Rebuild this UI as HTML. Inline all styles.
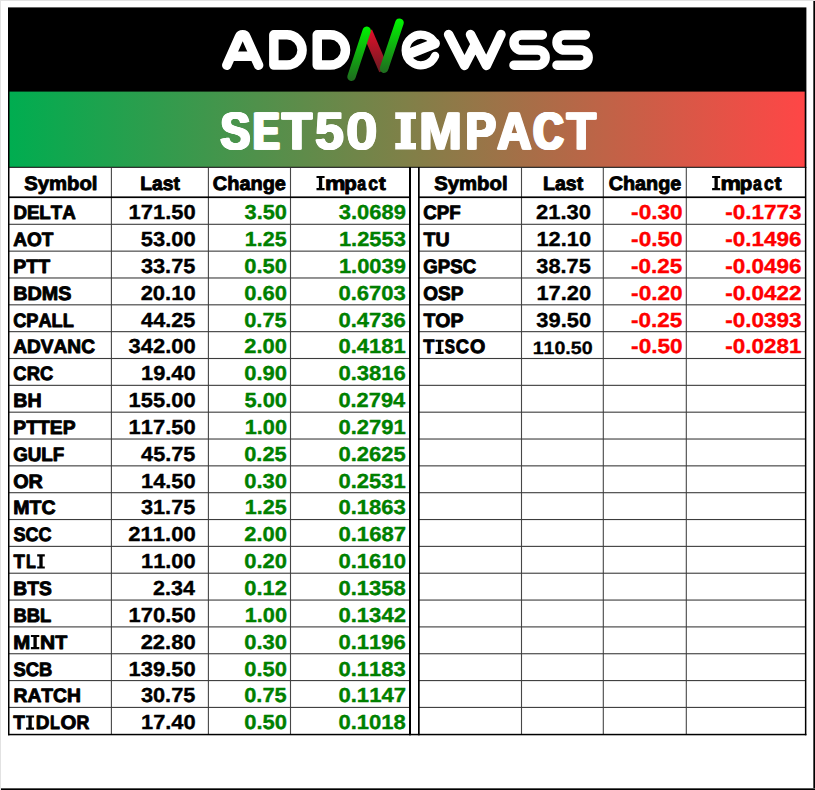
<!DOCTYPE html>
<html><head><meta charset="utf-8"><style>
html,body{margin:0;padding:0;background:#fff;width:815px;height:790px;overflow:hidden}
svg{display:block}
text{font-family:"Liberation Sans",sans-serif;font-weight:bold;font-kerning:none;white-space:pre;text-rendering:geometricPrecision}
</style></head><body>
<svg width="815" height="790" viewBox="0 0 815 790">
<defs>
<linearGradient id="bg" x1="0" x2="1" y1="0" y2="0">
<stop offset="0" stop-color="#00ad50"/><stop offset="0.5" stop-color="#808048"/><stop offset="1" stop-color="#ff4646"/>
</linearGradient>
<linearGradient id="rg" gradientUnits="userSpaceOnUse" x1="0" y1="30" x2="0" y2="71">
<stop offset="0" stop-color="#e0102a"/><stop offset="1" stop-color="#6e1a22"/>
</linearGradient>
<linearGradient id="gg1" gradientUnits="userSpaceOnUse" x1="0" y1="27" x2="0" y2="81">
<stop offset="0" stop-color="#00f000"/><stop offset="1" stop-color="#1f6a1f"/>
</linearGradient>
<linearGradient id="gg2" gradientUnits="userSpaceOnUse" x1="0" y1="18" x2="0" y2="73">
<stop offset="0" stop-color="#00f800"/><stop offset="1" stop-color="#1f6a1f"/>
</linearGradient>
</defs>
<rect x="0" y="0" width="815" height="790" fill="#fff"/>
<rect x="0" y="0" width="815" height="1" fill="#e2e2e2"/>
<rect x="0" y="0" width="1" height="790" fill="#e2e2e2"/>
<rect x="813" y="1" width="1" height="789" fill="#555"/>
<rect x="814" y="1" width="1" height="789" fill="#000"/>
<rect x="1" y="788" width="814" height="1" fill="#555"/>
<rect x="1" y="789" width="814" height="1" fill="#000"/>
<rect x="8" y="7.4" width="798.4" height="160.4" fill="#000"/>
<rect x="9.5" y="91.6" width="795.2" height="75.2" fill="url(#bg)"/>

<g fill="none" stroke="#fff" stroke-width="9.5" stroke-linecap="round" stroke-linejoin="round">
<path d="M226.8,65.2 L239.36,37.04 A3.63,3.63 0 0 1 246.04,37.04 L258.6,65.2"/>
<path d="M233,56.2 H252.4"/>
<path d="M273.85,34.85 H286.95 A15.12,15.12 0 0 1 286.95,65.1 H273.85 Z"/>
<path d="M317.25,34.85 H330.35 A15.12,15.12 0 0 1 330.35,65.1 H317.25 Z"/>
<path d="M434.83,43.51 A15.3,15.3 0 1 0 435.09,55.94" stroke-width="8.3"/>
<path d="M408.1,54.2 L434.83,43.51" stroke-width="10.2"/>
<path d="M448.6,34.5 L464.5,65.4 L475,45 M470.5,34.5 L486.4,65.4 L501,34.5"/>
<path d="M542.35,34.9 H521.55 A7.55,7.55 0 0 0 521.55,50 H537.55 A7.6,7.6 0 0 1 537.55,65.2 H514"/>
<path d="M585.35,34.9 H564.55 A7.55,7.55 0 0 0 564.55,50 H580.55 A7.6,7.6 0 0 1 580.55,65.2 H557"/>
</g>
<path d="M367.3,31.6 L384,70.2" stroke="url(#rg)" stroke-width="10.2" fill="none"/>
<path d="M366.7,30.7 L351.5,76.8" stroke="url(#gg1)" stroke-width="8.4" stroke-linecap="round" fill="none"/>
<path d="M399.5,22.7 L384,68.6" stroke="url(#gg2)" stroke-width="8.6" stroke-linecap="round" fill="none"/>

<rect x="110.85000000000001" y="168" width="1.1" height="566" fill="#484848"/>
<rect x="207.85" y="168" width="1.1" height="566" fill="#484848"/>
<rect x="289.95" y="168" width="1.1" height="566" fill="#484848"/>
<rect x="520.95" y="168" width="1.1" height="566" fill="#484848"/>
<rect x="602.75" y="168" width="1.1" height="566" fill="#484848"/>
<rect x="685.75" y="168" width="1.1" height="566" fill="#484848"/>
<rect x="8" y="223.75" width="402" height="1.1" fill="#3c3c3c"/>
<rect x="418" y="223.75" width="388" height="1.1" fill="#3c3c3c"/>
<rect x="8" y="250.59" width="402" height="1.1" fill="#3c3c3c"/>
<rect x="418" y="250.59" width="388" height="1.1" fill="#3c3c3c"/>
<rect x="8" y="277.43" width="402" height="1.1" fill="#3c3c3c"/>
<rect x="418" y="277.43" width="388" height="1.1" fill="#3c3c3c"/>
<rect x="8" y="304.27" width="402" height="1.1" fill="#3c3c3c"/>
<rect x="418" y="304.27" width="388" height="1.1" fill="#3c3c3c"/>
<rect x="8" y="331.10999999999996" width="402" height="1.1" fill="#3c3c3c"/>
<rect x="418" y="331.10999999999996" width="388" height="1.1" fill="#3c3c3c"/>
<rect x="8" y="357.95" width="402" height="1.1" fill="#3c3c3c"/>
<rect x="418" y="357.95" width="388" height="1.1" fill="#3c3c3c"/>
<rect x="8" y="384.79" width="402" height="1.1" fill="#3c3c3c"/>
<rect x="418" y="384.79" width="388" height="1.1" fill="#3c3c3c"/>
<rect x="8" y="411.63" width="402" height="1.1" fill="#3c3c3c"/>
<rect x="418" y="411.63" width="388" height="1.1" fill="#3c3c3c"/>
<rect x="8" y="438.46999999999997" width="402" height="1.1" fill="#3c3c3c"/>
<rect x="418" y="438.46999999999997" width="388" height="1.1" fill="#3c3c3c"/>
<rect x="8" y="465.31" width="402" height="1.1" fill="#3c3c3c"/>
<rect x="418" y="465.31" width="388" height="1.1" fill="#3c3c3c"/>
<rect x="8" y="492.15000000000003" width="402" height="1.1" fill="#3c3c3c"/>
<rect x="418" y="492.15000000000003" width="388" height="1.1" fill="#3c3c3c"/>
<rect x="8" y="518.99" width="402" height="1.1" fill="#3c3c3c"/>
<rect x="418" y="518.99" width="388" height="1.1" fill="#3c3c3c"/>
<rect x="8" y="545.83" width="402" height="1.1" fill="#3c3c3c"/>
<rect x="418" y="545.83" width="388" height="1.1" fill="#3c3c3c"/>
<rect x="8" y="572.6700000000001" width="402" height="1.1" fill="#3c3c3c"/>
<rect x="418" y="572.6700000000001" width="388" height="1.1" fill="#3c3c3c"/>
<rect x="8" y="599.5100000000001" width="402" height="1.1" fill="#3c3c3c"/>
<rect x="418" y="599.5100000000001" width="388" height="1.1" fill="#3c3c3c"/>
<rect x="8" y="626.35" width="402" height="1.1" fill="#3c3c3c"/>
<rect x="418" y="626.35" width="388" height="1.1" fill="#3c3c3c"/>
<rect x="8" y="653.19" width="402" height="1.1" fill="#3c3c3c"/>
<rect x="418" y="653.19" width="388" height="1.1" fill="#3c3c3c"/>
<rect x="8" y="680.0300000000001" width="402" height="1.1" fill="#3c3c3c"/>
<rect x="418" y="680.0300000000001" width="388" height="1.1" fill="#3c3c3c"/>
<rect x="8" y="706.87" width="402" height="1.1" fill="#3c3c3c"/>
<rect x="418" y="706.87" width="388" height="1.1" fill="#3c3c3c"/>
<rect x="8" y="196.4" width="402" height="1.7" fill="#000"/>
<rect x="418" y="196.4" width="388" height="1.7" fill="#000"/>
<rect x="8" y="167" width="1.5" height="568.3" fill="#000"/>
<rect x="409" y="167" width="2" height="568.3" fill="#000"/>
<rect x="418" y="167" width="1.7" height="568.3" fill="#000"/>
<rect x="804.9" y="167" width="1.5" height="568.3" fill="#000"/>
<rect x="8" y="733.8" width="798.4" height="1.5" fill="#000"/>
<text transform="translate(24.19 189.70) scale(1.0458 1)" font-size="19.4" fill="#000" stroke="#000" stroke-width="0.9" stroke-linejoin="round">Symbol</text>
<text transform="translate(140.26 189.70) scale(0.9935 1)" font-size="19.4" fill="#000" stroke="#000" stroke-width="0.9" stroke-linejoin="round">Last</text>
<text transform="translate(212.84 189.70) scale(1.0272 1)" font-size="19.4" fill="#000" stroke="#000" stroke-width="0.9" stroke-linejoin="round">Change</text>
<text transform="translate(434.19 189.70) scale(1.0473 1)" font-size="19.4" fill="#000" stroke="#000" stroke-width="0.9" stroke-linejoin="round">Symbol</text>
<text transform="translate(543.04 189.70) scale(1.0088 1)" font-size="19.4" fill="#000" stroke="#000" stroke-width="0.9" stroke-linejoin="round">Last</text>
<text transform="translate(608.65 189.70) scale(1.0229 1)" font-size="19.4" fill="#000" stroke="#000" stroke-width="0.9" stroke-linejoin="round">Change</text>
<path fill="#000" d="M316.50,175.90 H324.60 V178.10 H322.20 V187.95 H324.60 V190.15 H316.50 V187.95 H318.90 V178.10 H316.50 Z"/>
<text transform="translate(324.92 189.70) scale(1.1871 1)" font-size="19.4" fill="#000" stroke="#000" stroke-width="0.9" stroke-linejoin="round">m</text>
<text transform="translate(344.22 189.70) scale(1.0585 1)" font-size="19.4" fill="#000" stroke="#000" stroke-width="0.9" stroke-linejoin="round">p</text>
<text transform="translate(357.30 189.70) scale(0.8182 1)" font-size="19.4" fill="#000" stroke="#000" stroke-width="0.9" stroke-linejoin="round">a</text>
<text transform="translate(368.32 189.70) scale(0.9071 1)" font-size="19.4" fill="#000" stroke="#000" stroke-width="0.9" stroke-linejoin="round">c</text>
<text transform="translate(378.83 189.70) scale(1.0891 1)" font-size="19.4" fill="#000" stroke="#000" stroke-width="0.9" stroke-linejoin="round">t</text>
<path fill="#000" d="M712.10,175.90 H720.20 V178.10 H717.80 V187.95 H720.20 V190.15 H712.10 V187.95 H714.50 V178.10 H712.10 Z"/>
<text transform="translate(720.52 189.70) scale(1.1871 1)" font-size="19.4" fill="#000" stroke="#000" stroke-width="0.9" stroke-linejoin="round">m</text>
<text transform="translate(739.82 189.70) scale(1.0585 1)" font-size="19.4" fill="#000" stroke="#000" stroke-width="0.9" stroke-linejoin="round">p</text>
<text transform="translate(752.90 189.70) scale(0.8182 1)" font-size="19.4" fill="#000" stroke="#000" stroke-width="0.9" stroke-linejoin="round">a</text>
<text transform="translate(763.92 189.70) scale(0.9071 1)" font-size="19.4" fill="#000" stroke="#000" stroke-width="0.9" stroke-linejoin="round">c</text>
<text transform="translate(774.43 189.70) scale(1.0891 1)" font-size="19.4" fill="#000" stroke="#000" stroke-width="0.9" stroke-linejoin="round">t</text>
<text transform="translate(13.38 219.25) scale(0.9647 1)" font-size="19.4" fill="#000" stroke="#000" stroke-width="0.9" stroke-linejoin="round">DELTA</text>
<text transform="translate(128.61 219.25) scale(1.0808 1)" font-size="20.3" fill="#000" stroke="#000" stroke-width="0.35" stroke-linejoin="round">171.50</text>
<text transform="translate(244.59 219.25) scale(1.0736 1)" font-size="20.3" fill="#008000" stroke="#008000" stroke-width="0.35" stroke-linejoin="round">3.50</text>
<text transform="translate(338.79 219.25) scale(1.0813 1)" font-size="20.3" fill="#008000" stroke="#008000" stroke-width="0.35" stroke-linejoin="round">3.0689</text>
<text transform="translate(13.17 246.09) scale(0.9816 1)" font-size="19.4" fill="#000" stroke="#000" stroke-width="0.9" stroke-linejoin="round">AOT</text>
<text transform="translate(140.71 246.09) scale(1.0827 1)" font-size="20.3" fill="#000" stroke="#000" stroke-width="0.35" stroke-linejoin="round">53.00</text>
<text transform="translate(244.73 246.09) scale(1.0627 1)" font-size="20.3" fill="#008000" stroke="#008000" stroke-width="0.35" stroke-linejoin="round">1.25</text>
<text transform="translate(338.91 246.09) scale(1.0790 1)" font-size="20.3" fill="#008000" stroke="#008000" stroke-width="0.35" stroke-linejoin="round">1.2553</text>
<text transform="translate(13.35 272.93) scale(1.0046 1)" font-size="19.4" fill="#000" stroke="#000" stroke-width="0.9" stroke-linejoin="round">PTT</text>
<text transform="translate(140.89 272.93) scale(1.0735 1)" font-size="20.3" fill="#000" stroke="#000" stroke-width="0.35" stroke-linejoin="round">33.75</text>
<text transform="translate(244.22 272.93) scale(1.0831 1)" font-size="20.3" fill="#008000" stroke="#008000" stroke-width="0.35" stroke-linejoin="round">0.50</text>
<text transform="translate(338.91 272.93) scale(1.0793 1)" font-size="20.3" fill="#008000" stroke="#008000" stroke-width="0.35" stroke-linejoin="round">1.0039</text>
<text transform="translate(13.34 299.77) scale(1.0185 1)" font-size="19.4" fill="#000" stroke="#000" stroke-width="0.9" stroke-linejoin="round">BDMS</text>
<text transform="translate(140.63 299.77) scale(1.0844 1)" font-size="20.3" fill="#000" stroke="#000" stroke-width="0.35" stroke-linejoin="round">20.10</text>
<text transform="translate(244.22 299.77) scale(1.0831 1)" font-size="20.3" fill="#008000" stroke="#008000" stroke-width="0.35" stroke-linejoin="round">0.60</text>
<text transform="translate(338.42 299.77) scale(1.0870 1)" font-size="20.3" fill="#008000" stroke="#008000" stroke-width="0.35" stroke-linejoin="round">0.6703</text>
<text transform="translate(13.18 326.61) scale(0.9382 1)" font-size="19.4" fill="#000" stroke="#000" stroke-width="0.9" stroke-linejoin="round">CPALL</text>
<text transform="translate(141.06 326.61) scale(1.0701 1)" font-size="20.3" fill="#000" stroke="#000" stroke-width="0.35" stroke-linejoin="round">44.25</text>
<text transform="translate(244.22 326.61) scale(1.0756 1)" font-size="20.3" fill="#008000" stroke="#008000" stroke-width="0.35" stroke-linejoin="round">0.75</text>
<text transform="translate(338.42 326.61) scale(1.0870 1)" font-size="20.3" fill="#008000" stroke="#008000" stroke-width="0.35" stroke-linejoin="round">0.4736</text>
<text transform="translate(13.17 353.45) scale(0.9858 1)" font-size="19.4" fill="#000" stroke="#000" stroke-width="0.9" stroke-linejoin="round">ADVANC</text>
<text transform="translate(128.49 353.45) scale(1.0827 1)" font-size="20.3" fill="#000" stroke="#000" stroke-width="0.35" stroke-linejoin="round">342.00</text>
<text transform="translate(244.33 353.45) scale(1.0803 1)" font-size="20.3" fill="#008000" stroke="#008000" stroke-width="0.35" stroke-linejoin="round">2.00</text>
<text transform="translate(338.42 353.45) scale(1.0840 1)" font-size="20.3" fill="#008000" stroke="#008000" stroke-width="0.35" stroke-linejoin="round">0.4181</text>
<text transform="translate(13.37 380.29) scale(0.9470 1)" font-size="19.4" fill="#000" stroke="#000" stroke-width="0.9" stroke-linejoin="round">CRC</text>
<text transform="translate(141.01 380.29) scale(1.0767 1)" font-size="20.3" fill="#000" stroke="#000" stroke-width="0.35" stroke-linejoin="round">19.40</text>
<text transform="translate(244.22 380.29) scale(1.0831 1)" font-size="20.3" fill="#008000" stroke="#008000" stroke-width="0.35" stroke-linejoin="round">0.90</text>
<text transform="translate(338.42 380.29) scale(1.0870 1)" font-size="20.3" fill="#008000" stroke="#008000" stroke-width="0.35" stroke-linejoin="round">0.3816</text>
<text transform="translate(13.34 407.13) scale(1.0108 1)" font-size="19.4" fill="#000" stroke="#000" stroke-width="0.9" stroke-linejoin="round">BH</text>
<text transform="translate(128.61 407.13) scale(1.0808 1)" font-size="20.3" fill="#000" stroke="#000" stroke-width="0.35" stroke-linejoin="round">155.00</text>
<text transform="translate(244.42 407.13) scale(1.0781 1)" font-size="20.3" fill="#008000" stroke="#008000" stroke-width="0.35" stroke-linejoin="round">5.00</text>
<text transform="translate(338.42 407.13) scale(1.0759 1)" font-size="20.3" fill="#008000" stroke="#008000" stroke-width="0.35" stroke-linejoin="round">0.2794</text>
<text transform="translate(13.36 433.97) scale(0.9942 1)" font-size="19.4" fill="#000" stroke="#000" stroke-width="0.9" stroke-linejoin="round">PTTEP</text>
<text transform="translate(128.61 433.97) scale(1.0808 1)" font-size="20.3" fill="#000" stroke="#000" stroke-width="0.35" stroke-linejoin="round">117.50</text>
<text transform="translate(244.72 433.97) scale(1.0702 1)" font-size="20.3" fill="#008000" stroke="#008000" stroke-width="0.35" stroke-linejoin="round">1.00</text>
<text transform="translate(338.42 433.97) scale(1.0840 1)" font-size="20.3" fill="#008000" stroke="#008000" stroke-width="0.35" stroke-linejoin="round">0.2791</text>
<text transform="translate(13.16 460.81) scale(0.9695 1)" font-size="19.4" fill="#000" stroke="#000" stroke-width="0.9" stroke-linejoin="round">GULF</text>
<text transform="translate(141.06 460.81) scale(1.0701 1)" font-size="20.3" fill="#000" stroke="#000" stroke-width="0.35" stroke-linejoin="round">45.75</text>
<text transform="translate(244.22 460.81) scale(1.0756 1)" font-size="20.3" fill="#008000" stroke="#008000" stroke-width="0.35" stroke-linejoin="round">0.25</text>
<text transform="translate(338.42 460.81) scale(1.0840 1)" font-size="20.3" fill="#008000" stroke="#008000" stroke-width="0.35" stroke-linejoin="round">0.2625</text>
<text transform="translate(13.15 487.65) scale(1.0206 1)" font-size="19.4" fill="#000" stroke="#000" stroke-width="0.9" stroke-linejoin="round">OR</text>
<text transform="translate(141.01 487.65) scale(1.0767 1)" font-size="20.3" fill="#000" stroke="#000" stroke-width="0.35" stroke-linejoin="round">14.50</text>
<text transform="translate(244.22 487.65) scale(1.0831 1)" font-size="20.3" fill="#008000" stroke="#008000" stroke-width="0.35" stroke-linejoin="round">0.30</text>
<text transform="translate(338.42 487.65) scale(1.0840 1)" font-size="20.3" fill="#008000" stroke="#008000" stroke-width="0.35" stroke-linejoin="round">0.2531</text>
<text transform="translate(13.35 514.49) scale(1.0075 1)" font-size="19.4" fill="#000" stroke="#000" stroke-width="0.9" stroke-linejoin="round">MTC</text>
<text transform="translate(140.89 514.49) scale(1.0735 1)" font-size="20.3" fill="#000" stroke="#000" stroke-width="0.35" stroke-linejoin="round">31.75</text>
<text transform="translate(244.73 514.49) scale(1.0627 1)" font-size="20.3" fill="#008000" stroke="#008000" stroke-width="0.35" stroke-linejoin="round">1.25</text>
<text transform="translate(338.42 514.49) scale(1.0870 1)" font-size="20.3" fill="#008000" stroke="#008000" stroke-width="0.35" stroke-linejoin="round">0.1863</text>
<text transform="translate(13.40 541.33) scale(0.9320 1)" font-size="19.4" fill="#000" stroke="#000" stroke-width="0.9" stroke-linejoin="round">SCC</text>
<text transform="translate(128.23 541.33) scale(1.0870 1)" font-size="20.3" fill="#000" stroke="#000" stroke-width="0.35" stroke-linejoin="round">211.00</text>
<text transform="translate(244.33 541.33) scale(1.0803 1)" font-size="20.3" fill="#008000" stroke="#008000" stroke-width="0.35" stroke-linejoin="round">2.00</text>
<text transform="translate(338.42 541.33) scale(1.0898 1)" font-size="20.3" fill="#008000" stroke="#008000" stroke-width="0.35" stroke-linejoin="round">0.1687</text>
<text transform="translate(13.42 568.17) scale(0.9575 1)" font-size="19.4" fill="#000" stroke="#000" stroke-width="0.9" stroke-linejoin="round">T</text>
<text transform="translate(25.99 568.17) scale(0.8383 1)" font-size="19.4" fill="#000" stroke="#000" stroke-width="0.9" stroke-linejoin="round">L</text>
<path fill="#000" d="M37.20,554.37 H44.80 V556.57 H42.65 V566.42 H44.80 V568.62 H37.20 V566.42 H39.35 V556.57 H37.20 Z"/>
<text transform="translate(141.01 568.17) scale(1.0767 1)" font-size="20.3" fill="#000" stroke="#000" stroke-width="0.35" stroke-linejoin="round">11.00</text>
<text transform="translate(244.22 568.17) scale(1.0831 1)" font-size="20.3" fill="#008000" stroke="#008000" stroke-width="0.35" stroke-linejoin="round">0.20</text>
<text transform="translate(338.42 568.17) scale(1.0887 1)" font-size="20.3" fill="#008000" stroke="#008000" stroke-width="0.35" stroke-linejoin="round">0.1610</text>
<text transform="translate(13.36 595.01) scale(0.9909 1)" font-size="19.4" fill="#000" stroke="#000" stroke-width="0.9" stroke-linejoin="round">BTS</text>
<text transform="translate(153.04 595.01) scale(1.0603 1)" font-size="20.3" fill="#000" stroke="#000" stroke-width="0.35" stroke-linejoin="round">2.34</text>
<text transform="translate(244.22 595.01) scale(1.0825 1)" font-size="20.3" fill="#008000" stroke="#008000" stroke-width="0.35" stroke-linejoin="round">0.12</text>
<text transform="translate(338.42 595.01) scale(1.0850 1)" font-size="20.3" fill="#008000" stroke="#008000" stroke-width="0.35" stroke-linejoin="round">0.1358</text>
<text transform="translate(13.40 621.85) scale(0.9492 1)" font-size="19.4" fill="#000" stroke="#000" stroke-width="0.9" stroke-linejoin="round">BBL</text>
<text transform="translate(128.61 621.85) scale(1.0808 1)" font-size="20.3" fill="#000" stroke="#000" stroke-width="0.35" stroke-linejoin="round">170.50</text>
<text transform="translate(244.72 621.85) scale(1.0702 1)" font-size="20.3" fill="#008000" stroke="#008000" stroke-width="0.35" stroke-linejoin="round">1.00</text>
<text transform="translate(338.42 621.85) scale(1.0884 1)" font-size="20.3" fill="#008000" stroke="#008000" stroke-width="0.35" stroke-linejoin="round">0.1342</text>
<text transform="translate(13.31 648.69) scale(1.0508 1)" font-size="19.4" fill="#000" stroke="#000" stroke-width="0.9" stroke-linejoin="round">M</text>
<path fill="#000" d="M30.90,634.89 H39.30 V637.09 H36.75 V646.94 H39.30 V649.14 H30.90 V646.94 H33.45 V637.09 H30.90 Z"/>
<text transform="translate(39.88 648.69) scale(1.0809 1)" font-size="19.4" fill="#000" stroke="#000" stroke-width="0.9" stroke-linejoin="round">N</text>
<text transform="translate(55.14 648.69) scale(1.0143 1)" font-size="19.4" fill="#000" stroke="#000" stroke-width="0.9" stroke-linejoin="round">T</text>
<text transform="translate(140.63 648.69) scale(1.0844 1)" font-size="20.3" fill="#000" stroke="#000" stroke-width="0.35" stroke-linejoin="round">22.80</text>
<text transform="translate(244.22 648.69) scale(1.0831 1)" font-size="20.3" fill="#008000" stroke="#008000" stroke-width="0.35" stroke-linejoin="round">0.30</text>
<text transform="translate(338.42 648.69) scale(1.0870 1)" font-size="20.3" fill="#008000" stroke="#008000" stroke-width="0.35" stroke-linejoin="round">0.1196</text>
<text transform="translate(13.50 675.53) scale(0.9476 1)" font-size="19.4" fill="#000" stroke="#000" stroke-width="0.9" stroke-linejoin="round">SCB</text>
<text transform="translate(128.61 675.53) scale(1.0808 1)" font-size="20.3" fill="#000" stroke="#000" stroke-width="0.35" stroke-linejoin="round">139.50</text>
<text transform="translate(244.22 675.53) scale(1.0831 1)" font-size="20.3" fill="#008000" stroke="#008000" stroke-width="0.35" stroke-linejoin="round">0.50</text>
<text transform="translate(338.42 675.53) scale(1.0870 1)" font-size="20.3" fill="#008000" stroke="#008000" stroke-width="0.35" stroke-linejoin="round">0.1183</text>
<text transform="translate(13.46 702.37) scale(0.9942 1)" font-size="19.4" fill="#000" stroke="#000" stroke-width="0.9" stroke-linejoin="round">RATCH</text>
<text transform="translate(140.89 702.37) scale(1.0735 1)" font-size="20.3" fill="#000" stroke="#000" stroke-width="0.35" stroke-linejoin="round">30.75</text>
<text transform="translate(244.22 702.37) scale(1.0756 1)" font-size="20.3" fill="#008000" stroke="#008000" stroke-width="0.35" stroke-linejoin="round">0.75</text>
<text transform="translate(338.42 702.37) scale(1.0898 1)" font-size="20.3" fill="#008000" stroke="#008000" stroke-width="0.35" stroke-linejoin="round">0.1147</text>
<text transform="translate(13.23 729.21) scale(0.9818 1)" font-size="19.4" fill="#000" stroke="#000" stroke-width="0.9" stroke-linejoin="round">T</text>
<path fill="#000" d="M26.10,715.41 H34.10 V717.61 H31.75 V727.46 H34.10 V729.66 H26.10 V727.46 H28.45 V717.61 H26.10 Z"/>
<text transform="translate(35.87 729.21) scale(0.9767 1)" font-size="19.4" fill="#000" stroke="#000" stroke-width="0.9" stroke-linejoin="round">D</text>
<text transform="translate(49.99 729.21) scale(0.8383 1)" font-size="19.4" fill="#000" stroke="#000" stroke-width="0.9" stroke-linejoin="round">L</text>
<text transform="translate(60.44 729.21) scale(1.0501 1)" font-size="19.4" fill="#000" stroke="#000" stroke-width="0.9" stroke-linejoin="round">O</text>
<text transform="translate(76.62 729.21) scale(0.9157 1)" font-size="19.4" fill="#000" stroke="#000" stroke-width="0.9" stroke-linejoin="round">R</text>
<text transform="translate(141.01 729.21) scale(1.0767 1)" font-size="20.3" fill="#000" stroke="#000" stroke-width="0.35" stroke-linejoin="round">17.40</text>
<text transform="translate(244.22 729.21) scale(1.0831 1)" font-size="20.3" fill="#008000" stroke="#008000" stroke-width="0.35" stroke-linejoin="round">0.50</text>
<text transform="translate(338.42 729.21) scale(1.0850 1)" font-size="20.3" fill="#008000" stroke="#008000" stroke-width="0.35" stroke-linejoin="round">0.1018</text>
<text transform="translate(423.27 219.25) scale(0.9661 1)" font-size="19.4" fill="#000" stroke="#000" stroke-width="0.9" stroke-linejoin="round">CPF</text>
<text transform="translate(536.03 219.25) scale(1.0844 1)" font-size="20.3" fill="#000" stroke="#000" stroke-width="0.35" stroke-linejoin="round">21.30</text>
<text transform="translate(631.11 219.25) scale(1.1157 1)" font-size="20.3" fill="#ff0000" stroke="#ff0000" stroke-width="0.35" stroke-linejoin="round">-0.30</text>
<text transform="translate(725.32 219.25) scale(1.1083 1)" font-size="20.3" fill="#ff0000" stroke="#ff0000" stroke-width="0.35" stroke-linejoin="round">-0.1773</text>
<text transform="translate(423.43 246.09) scale(1.0095 1)" font-size="19.4" fill="#000" stroke="#000" stroke-width="0.9" stroke-linejoin="round">TU</text>
<text transform="translate(536.41 246.09) scale(1.0767 1)" font-size="20.3" fill="#000" stroke="#000" stroke-width="0.35" stroke-linejoin="round">12.10</text>
<text transform="translate(631.11 246.09) scale(1.1157 1)" font-size="20.3" fill="#ff0000" stroke="#ff0000" stroke-width="0.35" stroke-linejoin="round">-0.50</text>
<text transform="translate(725.32 246.09) scale(1.1083 1)" font-size="20.3" fill="#ff0000" stroke="#ff0000" stroke-width="0.35" stroke-linejoin="round">-0.1496</text>
<text transform="translate(423.27 272.93) scale(0.9624 1)" font-size="19.4" fill="#000" stroke="#000" stroke-width="0.9" stroke-linejoin="round">GPSC</text>
<text transform="translate(536.29 272.93) scale(1.0735 1)" font-size="20.3" fill="#000" stroke="#000" stroke-width="0.35" stroke-linejoin="round">38.75</text>
<text transform="translate(631.11 272.93) scale(1.1091 1)" font-size="20.3" fill="#ff0000" stroke="#ff0000" stroke-width="0.35" stroke-linejoin="round">-0.25</text>
<text transform="translate(725.32 272.93) scale(1.1083 1)" font-size="20.3" fill="#ff0000" stroke="#ff0000" stroke-width="0.35" stroke-linejoin="round">-0.0496</text>
<text transform="translate(423.26 299.77) scale(0.9799 1)" font-size="19.4" fill="#000" stroke="#000" stroke-width="0.9" stroke-linejoin="round">OSP</text>
<text transform="translate(536.41 299.77) scale(1.0767 1)" font-size="20.3" fill="#000" stroke="#000" stroke-width="0.35" stroke-linejoin="round">17.20</text>
<text transform="translate(631.11 299.77) scale(1.1157 1)" font-size="20.3" fill="#ff0000" stroke="#ff0000" stroke-width="0.35" stroke-linejoin="round">-0.20</text>
<text transform="translate(725.31 299.77) scale(1.1096 1)" font-size="20.3" fill="#ff0000" stroke="#ff0000" stroke-width="0.35" stroke-linejoin="round">-0.0422</text>
<text transform="translate(423.43 326.61) scale(1.0025 1)" font-size="19.4" fill="#000" stroke="#000" stroke-width="0.9" stroke-linejoin="round">TOP</text>
<text transform="translate(536.29 326.61) scale(1.0792 1)" font-size="20.3" fill="#000" stroke="#000" stroke-width="0.35" stroke-linejoin="round">39.50</text>
<text transform="translate(631.11 326.61) scale(1.1091 1)" font-size="20.3" fill="#ff0000" stroke="#ff0000" stroke-width="0.35" stroke-linejoin="round">-0.25</text>
<text transform="translate(725.32 326.61) scale(1.1083 1)" font-size="20.3" fill="#ff0000" stroke="#ff0000" stroke-width="0.35" stroke-linejoin="round">-0.0393</text>
<text transform="translate(423.22 353.45) scale(0.9413 1)" font-size="19.4" fill="#000" stroke="#000" stroke-width="0.9" stroke-linejoin="round">T</text>
<path fill="#000" d="M435.50,339.65 H443.60 V341.85 H441.20 V351.70 H443.60 V353.90 H435.50 V351.70 H437.90 V341.85 H435.50 Z"/>
<text transform="translate(444.81 353.45) scale(0.7905 1)" font-size="19.4" fill="#000" stroke="#000" stroke-width="0.9" stroke-linejoin="round">S</text>
<text transform="translate(455.77 353.45) scale(0.9497 1)" font-size="19.4" fill="#000" stroke="#000" stroke-width="0.9" stroke-linejoin="round">C</text>
<text transform="translate(469.95 353.45) scale(1.0153 1)" font-size="19.4" fill="#000" stroke="#000" stroke-width="0.9" stroke-linejoin="round">O</text>
<text transform="translate(532.63 353.80) scale(1.0961 1)" font-size="17.9" fill="#000" stroke="#000" stroke-width="0.3" stroke-linejoin="round">110.50</text>
<text transform="translate(631.11 353.45) scale(1.1157 1)" font-size="20.3" fill="#ff0000" stroke="#ff0000" stroke-width="0.35" stroke-linejoin="round">-0.50</text>
<text transform="translate(725.32 353.45) scale(1.1055 1)" font-size="20.3" fill="#ff0000" stroke="#ff0000" stroke-width="0.35" stroke-linejoin="round">-0.0281</text>
<text transform="translate(219.43 148.90) scale(0.8545 1)" font-size="52.3" fill="#fff" stroke="#fff" stroke-width="1.2" stroke-linejoin="round">S</text>
<text transform="translate(220.09 148.90) scale(0.8545 1)" font-size="52.3" fill="#fff" stroke="#fff" stroke-width="1.2" stroke-linejoin="round">S</text>
<text transform="translate(220.76 148.90) scale(0.8545 1)" font-size="52.3" fill="#fff" stroke="#fff" stroke-width="1.2" stroke-linejoin="round">S</text>
<text transform="translate(221.43 148.90) scale(0.8545 1)" font-size="52.3" fill="#fff" stroke="#fff" stroke-width="1.2" stroke-linejoin="round">S</text>
<text transform="translate(251.83 148.90) scale(0.7478 1)" font-size="52.3" fill="#fff" stroke="#fff" stroke-width="1.2" stroke-linejoin="round">E</text>
<text transform="translate(252.57 148.90) scale(0.7478 1)" font-size="52.3" fill="#fff" stroke="#fff" stroke-width="1.2" stroke-linejoin="round">E</text>
<text transform="translate(253.31 148.90) scale(0.7478 1)" font-size="52.3" fill="#fff" stroke="#fff" stroke-width="1.2" stroke-linejoin="round">E</text>
<text transform="translate(254.05 148.90) scale(0.7478 1)" font-size="52.3" fill="#fff" stroke="#fff" stroke-width="1.2" stroke-linejoin="round">E</text>
<text transform="translate(254.79 148.90) scale(0.7478 1)" font-size="52.3" fill="#fff" stroke="#fff" stroke-width="1.2" stroke-linejoin="round">E</text>
<text transform="translate(281.01 148.90) scale(0.9588 1)" font-size="52.3" fill="#fff" stroke="#fff" stroke-width="1.2" stroke-linejoin="round">T</text>
<text transform="translate(281.62 148.90) scale(0.9588 1)" font-size="52.3" fill="#fff" stroke="#fff" stroke-width="1.2" stroke-linejoin="round">T</text>
<text transform="translate(282.23 148.90) scale(0.9588 1)" font-size="52.3" fill="#fff" stroke="#fff" stroke-width="1.2" stroke-linejoin="round">T</text>
<text transform="translate(314.60 148.90) scale(0.9944 1)" font-size="52.3" fill="#fff" stroke="#fff" stroke-width="1.2" stroke-linejoin="round">5</text>
<text transform="translate(315.06 148.90) scale(0.9944 1)" font-size="52.3" fill="#fff" stroke="#fff" stroke-width="1.2" stroke-linejoin="round">5</text>
<text transform="translate(315.53 148.90) scale(0.9944 1)" font-size="52.3" fill="#fff" stroke="#fff" stroke-width="1.2" stroke-linejoin="round">5</text>
<text transform="translate(345.79 148.90) scale(1.0969 1)" font-size="52.3" fill="#fff" stroke="#fff" stroke-width="1.2" stroke-linejoin="round">0</text>
<text transform="translate(346.09 148.90) scale(1.0969 1)" font-size="52.3" fill="#fff" stroke="#fff" stroke-width="1.2" stroke-linejoin="round">0</text>
<path fill="#fff" d="M395.2,112.3 H416 V119 H410.8 V143 H416 V149.5 H395.2 V143 H400.7 V119 H395.2 Z"/>
<text transform="translate(418.57 148.90) scale(0.9778 1)" font-size="52.3" fill="#fff" stroke="#fff" stroke-width="1.2" stroke-linejoin="round">M</text>
<text transform="translate(419.30 148.90) scale(0.9778 1)" font-size="52.3" fill="#fff" stroke="#fff" stroke-width="1.2" stroke-linejoin="round">M</text>
<text transform="translate(420.04 148.90) scale(0.9778 1)" font-size="52.3" fill="#fff" stroke="#fff" stroke-width="1.2" stroke-linejoin="round">M</text>
<text transform="translate(464.56 148.90) scale(0.8751 1)" font-size="52.3" fill="#fff" stroke="#fff" stroke-width="1.2" stroke-linejoin="round">P</text>
<text transform="translate(465.18 148.90) scale(0.8751 1)" font-size="52.3" fill="#fff" stroke="#fff" stroke-width="1.2" stroke-linejoin="round">P</text>
<text transform="translate(465.80 148.90) scale(0.8751 1)" font-size="52.3" fill="#fff" stroke="#fff" stroke-width="1.2" stroke-linejoin="round">P</text>
<text transform="translate(466.41 148.90) scale(0.8751 1)" font-size="52.3" fill="#fff" stroke="#fff" stroke-width="1.2" stroke-linejoin="round">P</text>
<text transform="translate(496.16 148.90) scale(0.9050 1)" font-size="52.3" fill="#fff" stroke="#fff" stroke-width="1.2" stroke-linejoin="round">A</text>
<text transform="translate(496.88 148.90) scale(0.9050 1)" font-size="52.3" fill="#fff" stroke="#fff" stroke-width="1.2" stroke-linejoin="round">A</text>
<text transform="translate(497.60 148.90) scale(0.9050 1)" font-size="52.3" fill="#fff" stroke="#fff" stroke-width="1.2" stroke-linejoin="round">A</text>
<text transform="translate(498.32 148.90) scale(0.9050 1)" font-size="52.3" fill="#fff" stroke="#fff" stroke-width="1.2" stroke-linejoin="round">A</text>
<text transform="translate(531.88 148.90) scale(0.7894 1)" font-size="52.3" fill="#fff" stroke="#fff" stroke-width="1.2" stroke-linejoin="round">C</text>
<text transform="translate(532.67 148.90) scale(0.7894 1)" font-size="52.3" fill="#fff" stroke="#fff" stroke-width="1.2" stroke-linejoin="round">C</text>
<text transform="translate(533.46 148.90) scale(0.7894 1)" font-size="52.3" fill="#fff" stroke="#fff" stroke-width="1.2" stroke-linejoin="round">C</text>
<text transform="translate(534.25 148.90) scale(0.7894 1)" font-size="52.3" fill="#fff" stroke="#fff" stroke-width="1.2" stroke-linejoin="round">C</text>
<text transform="translate(535.04 148.90) scale(0.7894 1)" font-size="52.3" fill="#fff" stroke="#fff" stroke-width="1.2" stroke-linejoin="round">C</text>
<text transform="translate(565.81 148.90) scale(0.9307 1)" font-size="52.3" fill="#fff" stroke="#fff" stroke-width="1.2" stroke-linejoin="round">T</text>
<text transform="translate(566.42 148.90) scale(0.9307 1)" font-size="52.3" fill="#fff" stroke="#fff" stroke-width="1.2" stroke-linejoin="round">T</text>
<text transform="translate(567.03 148.90) scale(0.9307 1)" font-size="52.3" fill="#fff" stroke="#fff" stroke-width="1.2" stroke-linejoin="round">T</text>
</svg>
</body></html>
